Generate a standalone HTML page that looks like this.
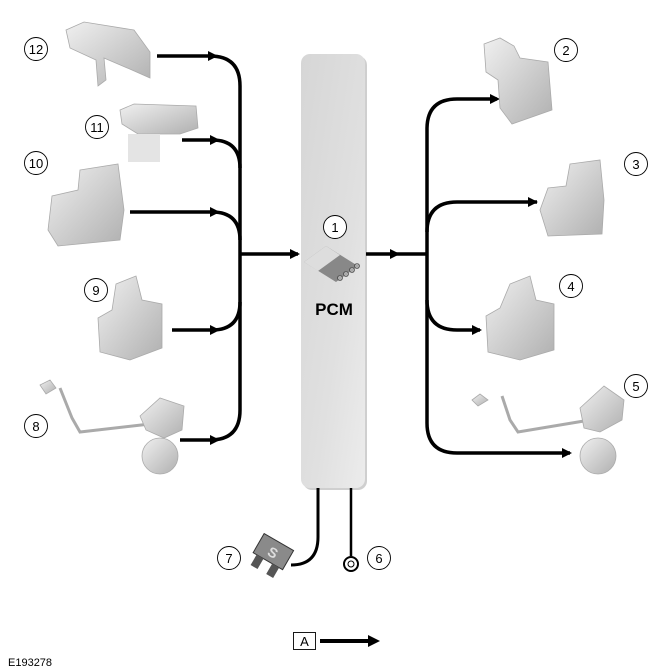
<!DOCTYPE html>
<html><head><meta charset="utf-8"><style>
html,body{margin:0;padding:0;background:#fff;}
svg{display:block}
text{font-family:"Liberation Sans",sans-serif}
</style></head><body>
<svg width="672" height="672" viewBox="0 0 672 672" xmlns="http://www.w3.org/2000/svg">
<defs>
<linearGradient id="pcm" x1="0" y1="0" x2="1" y2="1">
<stop offset="0" stop-color="#d6d6d6"/><stop offset="0.6" stop-color="#e0e0e0"/><stop offset="1" stop-color="#ececec"/>
</linearGradient>
<linearGradient id="part" x1="0" y1="0" x2="1" y2="1">
<stop offset="0" stop-color="#f0f0f0"/><stop offset="1" stop-color="#b0b0b0"/>
</linearGradient>
</defs>
<rect x="303" y="56" width="64" height="434" rx="9" fill="#cfcfcf"/>
<rect x="301" y="54" width="64" height="434" rx="9" fill="url(#pcm)"/>
<g fill="none" stroke="#000" stroke-width="3.5">
<path d="M157,56 H210 Q240,56 240,86 V410 Q240,440 210,440 H180"/>
<path d="M182,140 H212 Q240,140 240,168"/>
<path d="M130,212 H212 Q240,212 240,240"/>
<path d="M172,330 H212 Q240,330 240,302"/>
<path d="M240,254 H298"/>
<path d="M366,254 H427"/>
<path d="M497,99 H457 Q427,99 427,129 V423 Q427,453 457,453 H570"/>
<path d="M537,202 H457 Q427,202 427,232"/>
<path d="M480,330 H457 Q427,330 427,300"/>
<path d="M318,488 V537 Q318,565 291,565" stroke-width="3"/>
<path d="M351,488 V556" stroke-width="2.5"/>
<path d="M320,641 H370" stroke-width="4"/>
</g>
<g fill="#000">
<path d="M208,51 L218,56 L208,61z"/><path d="M210,135 L220,140 L210,145z"/>
<path d="M210,207 L220,212 L210,217z"/><path d="M210,325 L220,330 L210,335z"/>
<path d="M210,435 L220,440 L210,445z"/><path d="M290,249 L300,254 L290,259z"/>
<path d="M390,249 L400,254 L390,259z"/><path d="M490,94 L500,99 L490,104z"/>
<path d="M528,197 L538,202 L528,207z"/><path d="M472,325 L482,330 L472,335z"/>
<path d="M562,448 L572,453 L562,458z"/><path d="M368,635 L380,641 L368,647z"/>
</g>
<circle cx="351" cy="564" r="7" fill="#fff" stroke="#000" stroke-width="2"/>
<circle cx="351" cy="564" r="3" fill="#fff" stroke="#000" stroke-width="1"/>
<g transform="rotate(30 272 552)">
<rect x="256" y="540" width="34" height="22" fill="#8a8a8a" stroke="#333"/>
<rect x="260" y="562" width="8" height="12" fill="#555"/><rect x="278" y="562" width="8" height="12" fill="#555"/>
<text x="273" y="557" font-size="14" text-anchor="middle" fill="#ddd" font-weight="bold">S</text>
</g>
<path d="M304,262 L326,246 L358,266 L336,282z" fill="#888"/>
<path d="M304,262 L326,246 L340,255 L318,271z" fill="#ddd"/>
<g fill="#aaa" stroke="#333" stroke-width="0.6"><circle cx="340" cy="278" r="2.5"/><circle cx="346" cy="274" r="2.5"/><circle cx="352" cy="270" r="2.5"/><circle cx="357" cy="266" r="2.5"/></g>
<text x="334" y="315" font-size="17" font-weight="bold" text-anchor="middle">PCM</text>
<g fill="url(#part)" stroke="#aaa" stroke-width="0.8">
<path d="M66,30 L84,22 L134,30 L150,52 L150,78 L132,70 L104,58 L106,80 L98,86 L96,60 L70,48z"/>
<path d="M120,110 L134,104 L196,106 L198,128 L180,134 L138,134 L122,124z"/>
<rect x="128" y="134" width="32" height="28" fill="#e4e4e4" stroke="none"/>
<path d="M80,170 L118,164 L124,210 L120,240 L58,246 L48,230 L52,196 L78,190z"/>
<path d="M116,284 L136,276 L142,300 L162,304 L162,348 L130,360 L100,352 L98,318 L112,310z"/>
<path d="M40,385 L50,380 L56,388 L46,394z"/>
<path d="M60,388 L72,418 L80,432 L150,424" fill="none" stroke="#aaa" stroke-width="3"/>
<path d="M140,416 L160,398 L184,406 L182,430 L164,438 L146,430z"/>
<ellipse cx="160" cy="456" rx="18" ry="18"/>
<path d="M484,44 L500,38 L514,46 L520,58 L548,62 L552,110 L512,124 L500,108 L498,80 L486,72z"/>
<path d="M570,164 L600,160 L604,200 L602,234 L548,236 L540,210 L548,188 L566,186z"/>
<path d="M510,284 L530,276 L536,300 L554,304 L554,350 L520,360 L488,352 L486,316 L500,308z"/>
<path d="M472,400 L480,394 L488,400 L478,406z"/>
<path d="M502,396 L510,420 L518,432 L590,420" fill="none" stroke="#aaa" stroke-width="3"/>
<path d="M580,408 L604,386 L624,400 L622,420 L600,432 L584,428z"/>
<ellipse cx="598" cy="456" rx="18" ry="18"/>
</g>
<g fill="#fff" stroke="#000" stroke-width="0.9">
<circle cx="36" cy="49" r="11.5"/><circle cx="97" cy="127" r="11.5"/><circle cx="36" cy="163" r="11.5"/>
<circle cx="96" cy="290" r="11.5"/><circle cx="36" cy="426" r="11.5"/><circle cx="335" cy="227" r="11.5"/>
<circle cx="566" cy="50" r="11.5"/><circle cx="636" cy="164" r="11.5"/><circle cx="571" cy="286" r="11.5"/>
<circle cx="636" cy="386" r="11.5"/><circle cx="229" cy="558" r="11.5"/><circle cx="379" cy="558" r="11.5"/>
</g>
<g font-size="13" text-anchor="middle" fill="#000">
<text x="36" y="54">12</text><text x="97" y="132">11</text><text x="36" y="168">10</text>
<text x="96" y="295">9</text><text x="36" y="431">8</text><text x="335" y="232">1</text>
<text x="566" y="55">2</text><text x="636" y="169">3</text><text x="571" y="291">4</text>
<text x="636" y="391">5</text><text x="229" y="563">7</text><text x="379" y="563">6</text>
</g>
<rect x="293.5" y="632.5" width="22" height="17" fill="#fff" stroke="#000" stroke-width="0.9"/>
<text x="304.5" y="646" font-size="13" text-anchor="middle">A</text>
<text x="8" y="666" font-size="11">E193278</text>
</svg>
</body></html>
